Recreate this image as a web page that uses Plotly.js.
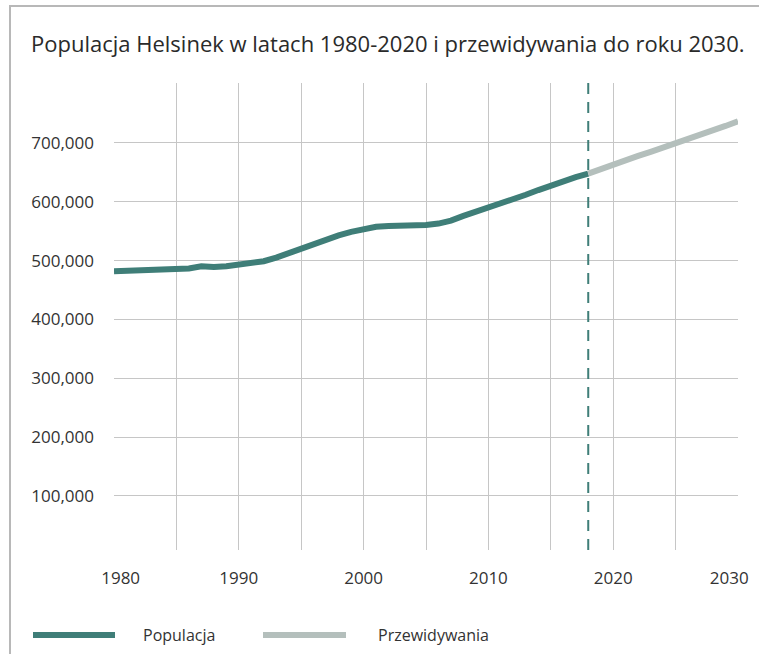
<!DOCTYPE html>
<html>
<head>
<meta charset="utf-8">
<script src="https://cdn.plot.ly/plotly-3.0.1.min.js"></script>
<style>
  html, body { margin: 0; padding: 0; background: #fff; }
  #wrap { position: relative; width: 767px; height: 654px; }
  #chart { position: absolute; left: 0; top: 0; width: 767px; height: 654px; }
  #frame { position: absolute; left: 9px; top: 5px; width: 748px; height: 660px;
           border-top: 2px solid #b8b8b8; border-left: 2px solid #b8b8b8; pointer-events: none; }
</style>
</head>
<body>
<div id="wrap">
  <div id="chart"></div>
  <div id="frame"></div>
</div>
<script>
// ---- data ----
const popYears = [1980,1981,1982,1983,1984,1985,1986,1987,1988,1989,
                  1990,1991,1992,1993,1994,1995,1996,1997,1998,1999,
                  2000,2001,2002,2003,2004,2005,2006,2007,2008,2009,
                  2010,2011,2012,2013,2014,2015,2016,2017,2018];
const popValues = [482000,483000,484000,484500,485000,485500,486500,490500,489000,490500,
                   492500,495000,499000,505000,513000,521000,529000,536000,543000,549000,
                   554000,557500,559000,559000,559500,560500,563000,568000,576000,583000,
                   589000,596000,604000,612000,620000,628000,635000,642000,648000];
const forecastYears = [2018,2019,2020,2021,2022,2023,2024,2025,2026,2027,2028,2029,2030];
const forecastValues = [648000,656000,663000,670000,678000,685000,692000,700000,707000,714000,722000,729000,737000];
const forecastStart = 2018;
const gridYears = [1985,1990,1995,2000,2005,2010,2015,2020,2025];
const labelYears = [1980,1990,2000,2010,2020,2030];
const yTicks = [100000,200000,300000,400000,500000,600000,700000];
const seriesNames = ['Populacja','Przewidywania'];
const titleText = 'Populacja Helsinek w latach 1980-2020 i przewidywania do roku 2030.';

// ---- style ----
const TEAL = '#3f7e78';
const GREY = '#b4bfbc';
const GRID = '#c6c6c6';
const FONT = 'Open Sans, Noto Sans, sans-serif';
const TXT = '#333333';
const W = 767, H = 654;
const M = {l: 114, r: 29, t: 83, b: 104};
const px2x = p => (p - M.l) / (W - M.l - M.r);
const py2y = p => (H - M.b - p) / (H - M.b - M.t);
const NB = '\u00a0';
// edge labels sit slightly inward in the reference
const tickText = labelYears.map((y, i) =>
  i === 0 ? NB + NB + NB + String(y)
  : i === labelYears.length - 1 ? String(y) + NB + NB + NB + NB
  : String(y));

const traces = [
  {x: popYears, y: popValues, name: seriesNames[0], type: 'scatter', mode: 'lines',
   line: {color: TEAL, width: 6}, xaxis: 'x', yaxis: 'y', showlegend: false, hoverinfo: 'x+y'},
  {x: forecastYears, y: forecastValues, name: seriesNames[1], type: 'scatter', mode: 'lines',
   line: {color: GREY, width: 6}, xaxis: 'x2', yaxis: 'y', showlegend: false, hoverinfo: 'x+y'}
];

const legY = py2y(635);
const layout = {
  width: W, height: H,
  margin: M,
  paper_bgcolor: '#fff', plot_bgcolor: '#fff',
  font: {family: FONT, color: TXT, size: 17},
  title: {text: titleText, font: {family: FONT, size: 22, color: '#2a2a2a'},
          xref: 'container', x: 31 / W, xanchor: 'left',
          yref: 'container', y: 1 - 44 / H, yanchor: 'middle'},
  xaxis: {range: [1980, 2030], tickvals: gridYears, showticklabels: false,
          showgrid: true, gridcolor: GRID, gridwidth: 1, zeroline: false, showline: false, ticks: ''},
  xaxis2: {range: [1980, 2030], overlaying: 'x', anchor: 'y', side: 'bottom',
           tickvals: labelYears, ticktext: tickText,
           showgrid: false, zeroline: false, showline: false, ticks: '',
           ticklabelstandoff: 16, tickfont: {family: FONT, size: 17, color: TXT}},
  yaxis: {range: [8000, 802000], tickvals: yTicks, tickformat: ',d',
          showgrid: true, gridcolor: GRID, gridwidth: 1, zeroline: false, showline: false, ticks: '',
          ticklabelstandoff: 19, tickfont: {family: FONT, size: 17, color: TXT}},
  shapes: [
    {type: 'line', xref: 'x', yref: 'paper', x0: forecastStart, x1: forecastStart, y0: 0, y1: 1,
     line: {color: TEAL, width: 2, dash: '11px,8px'}},
    {type: 'line', xref: 'paper', yref: 'paper', x0: px2x(33), x1: px2x(115), y0: legY, y1: legY,
     line: {color: TEAL, width: 6}},
    {type: 'line', xref: 'paper', yref: 'paper', x0: px2x(263), x1: px2x(346), y0: legY, y1: legY,
     line: {color: GREY, width: 6}}
  ],
  annotations: [
    {xref: 'paper', yref: 'paper', x: px2x(141), y: legY, xanchor: 'left', yanchor: 'middle',
     text: seriesNames[0], showarrow: false, font: {family: FONT, size: 16, color: TXT}},
    {xref: 'paper', yref: 'paper', x: px2x(376), y: legY, xanchor: 'left', yanchor: 'middle',
     text: seriesNames[1], showarrow: false, font: {family: FONT, size: 16, color: TXT}}
  ],
  showlegend: false
};

Plotly.newPlot('chart', traces, layout, {displayModeBar: false, staticPlot: true});
</script>
</body>
</html>
